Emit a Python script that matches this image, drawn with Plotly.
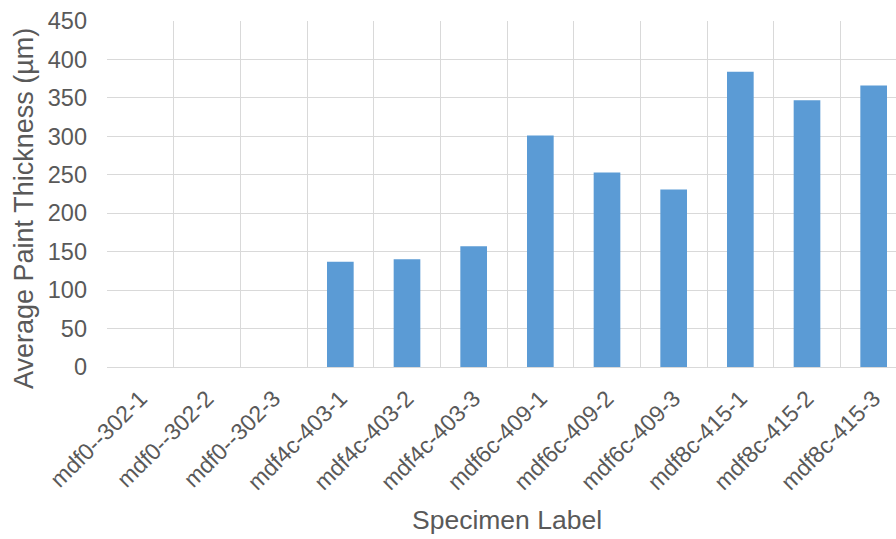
import plotly.graph_objects as go

# Specimens and their measured average paint thickness (µm)
specimens = [
    "mdf0--302-1", "mdf0--302-2", "mdf0--302-3",
    "mdf4c-403-1", "mdf4c-403-2", "mdf4c-403-3",
    "mdf6c-409-1", "mdf6c-409-2", "mdf6c-409-3",
    "mdf8c-415-1", "mdf8c-415-2", "mdf8c-415-3",
]
thickness = [0, 0, 0, 137, 140, 157, 301, 253, 231, 384, 347, 366]
y_ticks = [0, 50, 100, 150, 200, 250, 300, 350, 400, 450]

BAR = "#5B9BD5"
GRID = "#D9D9D9"
TEXT = "#595959"
FONT = "Liberation Sans, Arial, sans-serif"

fig = go.Figure(
    go.Bar(
        x=specimens,
        y=thickness,
        marker=dict(color=BAR, line=dict(width=0)),
        width=0.4,
    )
)

fig.update_layout(
    width=896,
    height=539,
    margin=dict(l=107, r=0, t=21, b=172),
    paper_bgcolor="white",
    plot_bgcolor="white",
    showlegend=False,
    font=dict(family=FONT, color=TEXT, size=22),
    annotations=[
        dict(
            text="Specimen Label",
            xref="x", yref="paper",
            x=5.5, y=0, yshift=-153,
            showarrow=False,
            font=dict(family=FONT, size=26.5, color=TEXT),
            xanchor="center", yanchor="middle",
        ),
        dict(
            text="Average Paint Thickness (µm)",
            xref="paper", yref="paper",
            x=0, xshift=-83, y=0.5, yshift=-15,
            textangle=-90,
            showarrow=False,
            font=dict(family=FONT, size=27, color=TEXT),
            xanchor="center", yanchor="middle",
        ),
    ],
)

fig.update_xaxes(
    type="category",
    range=[-0.5, 11.335],
    tickson="boundaries",
    showgrid=True,
    gridcolor=GRID,
    gridwidth=1,
    showline=True,
    linecolor=GRID,
    linewidth=1,
    ticks="",
    tickangle=-45,
    tickfont=dict(family=FONT, size=23, color=TEXT),
    ticklabelstandoff=8,
)

fig.update_yaxes(
    range=[0, 450],
    tickvals=y_ticks,
    showgrid=True,
    gridcolor=GRID,
    gridwidth=1,
    zeroline=False,
    showline=False,
    ticks="",
    tickfont=dict(family=FONT, size=23.5, color=TEXT),
    ticklabelstandoff=19,
)

fig.write_html("out.html")
